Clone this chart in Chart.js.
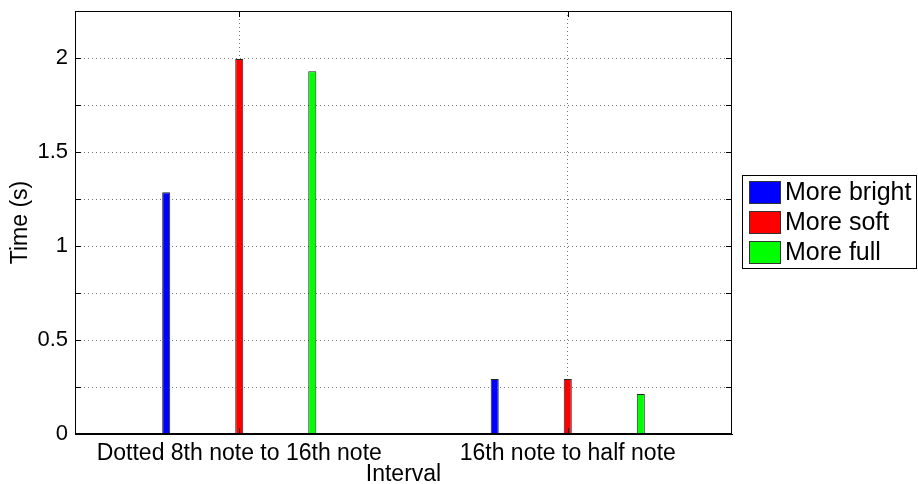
<!DOCTYPE html>
<html lang="en">
<head>
    <meta charset="UTF-8">
    <title>Interval timing by timbre</title>
    <script src="https://cdn.jsdelivr.net/npm/chart.js"></script>
    <style>
        body {
            margin: 0;
            background: #fff;
        }

        #wrap {
            width: 918px;
            height: 484px;
            position: relative;
        }
    </style>
</head>
<body>

    <div id="wrap"><canvas id="chart"></canvas></div>

    <script>
        // values
        const intervals = ['Dotted 8th note to 16th note', '16th note to half note'];
        const seriesNames = ['More bright', 'More soft', 'More full'];
        const moreBright = [1.286, 0.293];
        const moreSoft = [1.995, 0.293];
        const moreFull = [1.929, 0.213];
        const seriesColors = ['#0000ff', '#ff0000', '#00ff00'];
        const yMax = 2.25;
        const yStep = 0.25;

        const FONT = "'Liberation Sans', Arial, Helvetica, sans-serif";

        // MATLAB style box with inward tick marks
        const frame = {
            id: 'frame',
            afterDraw(chart) {
                const { ctx, chartArea: a, scales } = chart;
                ctx.save();
                ctx.strokeStyle = '#000';
                ctx.lineWidth = 1;
                ctx.strokeRect(Math.round(a.left) + 0.5, Math.round(a.top) + 0.5,
                    Math.round(a.right - a.left) - 1, Math.round(a.bottom - a.top) - 1);

                ctx.beginPath();
                scales.y.ticks.forEach(t => {
                    const y = Math.round(scales.y.getPixelForValue(t.value)) + 0.5;
                    ctx.moveTo(a.left, y); ctx.lineTo(a.left + 6, y);
                    ctx.moveTo(a.right, y); ctx.lineTo(a.right - 6, y);
                });
                scales.x.ticks.forEach((t, i) => {
                    const x = Math.round(scales.x.getPixelForTick(i)) + 0.5;
                    ctx.moveTo(x, a.bottom); ctx.lineTo(x, a.bottom - 6);
                    ctx.moveTo(x, a.top); ctx.lineTo(x, a.top + 6);
                });
                ctx.stroke();
                ctx.restore();
            }
        };

        // boxed legend to the right of the axes
        const boxLegend = {
            id: 'boxLegend',
            afterDraw(chart) {
                const ctx = chart.ctx;
                const x0 = 742, y0 = 175, w = 175, h = 94;
                ctx.save();
                ctx.fillStyle = '#fff';
                ctx.fillRect(x0, y0, w, h);
                ctx.strokeStyle = '#000';
                ctx.lineWidth = 1;
                ctx.strokeRect(x0 + 0.5, y0 + 0.5, w - 1, h - 1);
                ctx.font = '25px ' + FONT;
                ctx.textBaseline = 'middle';
                chart.data.datasets.forEach((ds, i) => {
                    const sy = 181 + i * 30;
                    ctx.fillStyle = ds.backgroundColor;
                    ctx.fillRect(749, sy, 32, 23);
                    ctx.strokeStyle = '#333';
                    ctx.strokeRect(749.5, sy + 0.5, 31, 22);
                    ctx.fillStyle = '#000';
                    ctx.fillText(ds.label, 785, sy + 12);
                });
                ctx.restore();
            }
        };

        const datasets = [moreBright, moreSoft, moreFull].map((vals, i) => ({
            label: seriesNames[i],
            data: vals,
            backgroundColor: seriesColors[i],
            borderColor: '#222',
            borderWidth: 1,
            categoryPercentage: 0.667,
            barPercentage: 0.11
        }));

        new Chart(document.getElementById('chart'), {
            type: 'bar',
            data: { labels: intervals, datasets: datasets },
            options: {
                responsive: true,
                maintainAspectRatio: false,
                animation: false,
                devicePixelRatio: 1,
                layout: { padding: { top: 11, right: 186, bottom: 0, left: 0 } },
                plugins: {
                    legend: { display: false },
                    tooltip: { enabled: false }
                },
                scales: {
                    x: {
                        grid: {
                            offset: false,
                            color: '#777',
                            drawTicks: false
                        },
                        border: { display: true, color: '#000', width: 1, dash: [1, 3] },
                        ticks: {
                            color: '#000',
                            padding: 6,
                            maxRotation: 0,
                            font: { family: FONT, size: 23 }
                        },
                        title: {
                            display: true,
                            text: 'Interval',
                            color: '#000',
                            padding: { top: 0, bottom: -3 },
                            font: { family: FONT, size: 23, lineHeight: 1.1 }
                        },
                        afterFit(scale) {
                            scale.height = 50;
                            scale.paddingLeft = 0;
                            scale.paddingRight = 0;
                        }
                    },
                    y: {
                        min: 0,
                        max: yMax,
                        grid: { color: '#777', drawTicks: false },
                        border: { display: true, color: '#000', width: 1, dash: [1, 3] },
                        ticks: {
                            stepSize: yStep,
                            color: '#000',
                            padding: 7,
                            font: { family: FONT, size: 22 },
                            callback: v => (Math.abs(v / 0.5 - Math.round(v / 0.5)) < 1e-9 && v < 2.2) ? String(v) : ''
                        },
                        title: {
                            display: true,
                            text: 'Time (s)',
                            color: '#000',
                            padding: { top: 8, bottom: 0 },
                            font: { family: FONT, size: 23, lineHeight: 1.1 }
                        },
                        afterFit(scale) {
                            scale.width = 75;
                            scale.paddingTop = 0;
                            scale.paddingBottom = 0;
                        }
                    }
                }
            },
            plugins: [frame, boxLegend]
        });
    </script>

</body>
</html>
